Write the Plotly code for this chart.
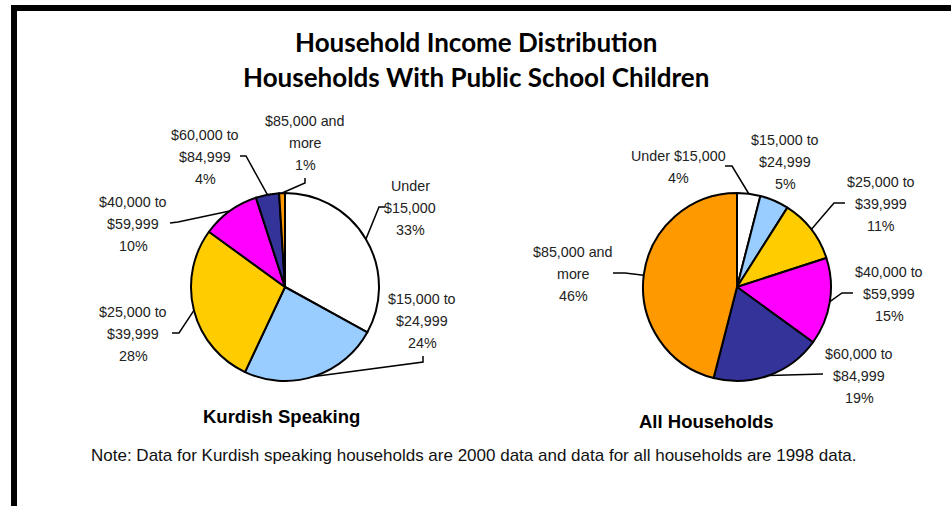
import math
import plotly.graph_objects as go

# ---------------- data ----------------
categories = ["Under $15,000", "$15,000 to $24,999", "$25,000 to $39,999",
              "$40,000 to $59,999", "$60,000 to $84,999", "$85,000 and more"]
kurdish_values = [33, 24, 28, 10, 4, 1]
all_values = [4, 5, 11, 15, 19, 46]
slice_colors = ["#FFFFFF", "#99CCFF", "#FFCC00", "#FF00FF", "#333399", "#FF9900"]

kurdish_label_lines = [["Under", "$15,000"], ["$15,000 to", "$24,999"], ["$25,000 to", "$39,999"],
                       ["$40,000 to", "$59,999"], ["$60,000 to", "$84,999"], ["$85,000 and", "more"]]
all_label_lines = [["Under $15,000"], ["$15,000 to", "$24,999"], ["$25,000 to", "$39,999"],
                   ["$40,000 to", "$59,999"], ["$60,000 to", "$84,999"], ["$85,000 and", "more"]]

title_lines = ["Household Income Distribution", "Households With Public School Children"]
pie_titles = ["Kurdish Speaking", "All Households"]
note_text = ("Note: Data for Kurdish speaking households are 2000 data and data for all "
             "households are 1998 data.")

# ---------------- layout (pixels) ----------------
W, H = 951, 506
R = 94
pie_centers = [(285, 287), (737, 287)]
# label placement: (text center x, first line y), leader points from label side (ordered edge->label)
kurdish_label_pos = [(410, 186), (422, 299), (133, 312), (133, 202), (205, 135), (305, 121)]
kurdish_leaders = [[(379, 207), (385, 207)], [(423, 362), (423, 356)], [(179, 333), (172, 333)],
                   [(178, 222), (170, 223)], [(246, 156), (240, 156)], [(305, 183), (305, 178)]]
all_label_pos = [(678, 156), (785, 140), (881, 182), (889, 272), (859, 354), (573, 252)]
all_leaders = [[(732, 166), (725, 166)], [], [(834, 203), (845, 203)],
               [(842, 293), (853, 293)], [(823, 374)], [(625, 273), (613, 273)]]
line_gap = 22


def X(px):
    return px / W


def Y(py):
    return 1 - py / H


fig = go.Figure()
annotations = []
shapes = []

for (cx, cy), vals, lines, lpos, leaders in [
    (pie_centers[0], kurdish_values, kurdish_label_lines, kurdish_label_pos, kurdish_leaders),
    (pie_centers[1], all_values, all_label_lines, all_label_pos, all_leaders),
]:
    fig.add_trace(go.Pie(
        labels=categories, values=vals, sort=False, direction="clockwise", rotation=0,
        marker=dict(colors=slice_colors, line=dict(color="black", width=2)),
        textinfo="none", hoverinfo="label+percent", showlegend=False,
        domain=dict(x=[X(cx - R), X(cx + R)], y=[Y(cy + R), Y(cy - R)]),
    ))
    total = sum(vals)
    cum = 0
    for i, v in enumerate(vals):
        theta = 2 * math.pi * (cum + v / 2) / total
        cum += v
        ex = cx + R * math.sin(theta)
        ey = cy - R * math.cos(theta)
        text_lines = lines[i] + [f"{round(100 * v / total)}%"]
        tx, ty = lpos[i]
        for k, t in enumerate(text_lines):
            annotations.append(dict(
                x=X(tx), y=Y(ty + k * line_gap), xref="paper", yref="paper",
                text=t, showarrow=False, xanchor="center", yanchor="middle",
                font=dict(family="Liberation Sans, Arial", size=14.3, color="#222222")))
        if leaders[i]:
            pts = [(ex, ey)] + leaders[i]
            path = "M " + " L ".join(f"{X(px)},{Y(py)}" for px, py in pts)
            shapes.append(dict(type="path", path=path, xref="paper", yref="paper",
                               line=dict(color="black", width=1.5)))

# titles
for k, t in enumerate(title_lines):
    annotations.append(dict(x=X(476), y=Y(42 + 35 * k), xref="paper", yref="paper", text=t,
                            showarrow=False, xanchor="center", yanchor="middle",
                            font=dict(family="Comic Sans MS, Lato", size=26, color="black",
                                      weight="bold")))
for (px, py), t in zip([(281, 416), (706, 421)], pie_titles):
    annotations.append(dict(x=X(px), y=Y(py), xref="paper", yref="paper", text=t,
                            showarrow=False, xanchor="center", yanchor="middle",
                            font=dict(family="Liberation Sans, Arial", size=18.5, color="black",
                                      weight="bold")))
annotations.append(dict(x=X(474), y=Y(455), xref="paper", yref="paper", text=note_text,
                        showarrow=False, xanchor="center", yanchor="middle",
                        font=dict(family="Liberation Sans, Arial", size=17,
                                  color="#111111")))

# frame
shapes.append(dict(type="rect", xref="paper", yref="paper", x0=X(11), x1=X(W), y0=Y(11), y1=Y(5),
                   fillcolor="black", line=dict(width=0)))
shapes.append(dict(type="rect", xref="paper", yref="paper", x0=X(11), x1=X(17), y0=Y(H), y1=Y(5),
                   fillcolor="black", line=dict(width=0)))

fig.update_layout(width=W, height=H, margin=dict(l=0, r=0, t=0, b=0),
                  paper_bgcolor="white", plot_bgcolor="white",
                  annotations=annotations, shapes=shapes)
fig.write_html("out.html")
